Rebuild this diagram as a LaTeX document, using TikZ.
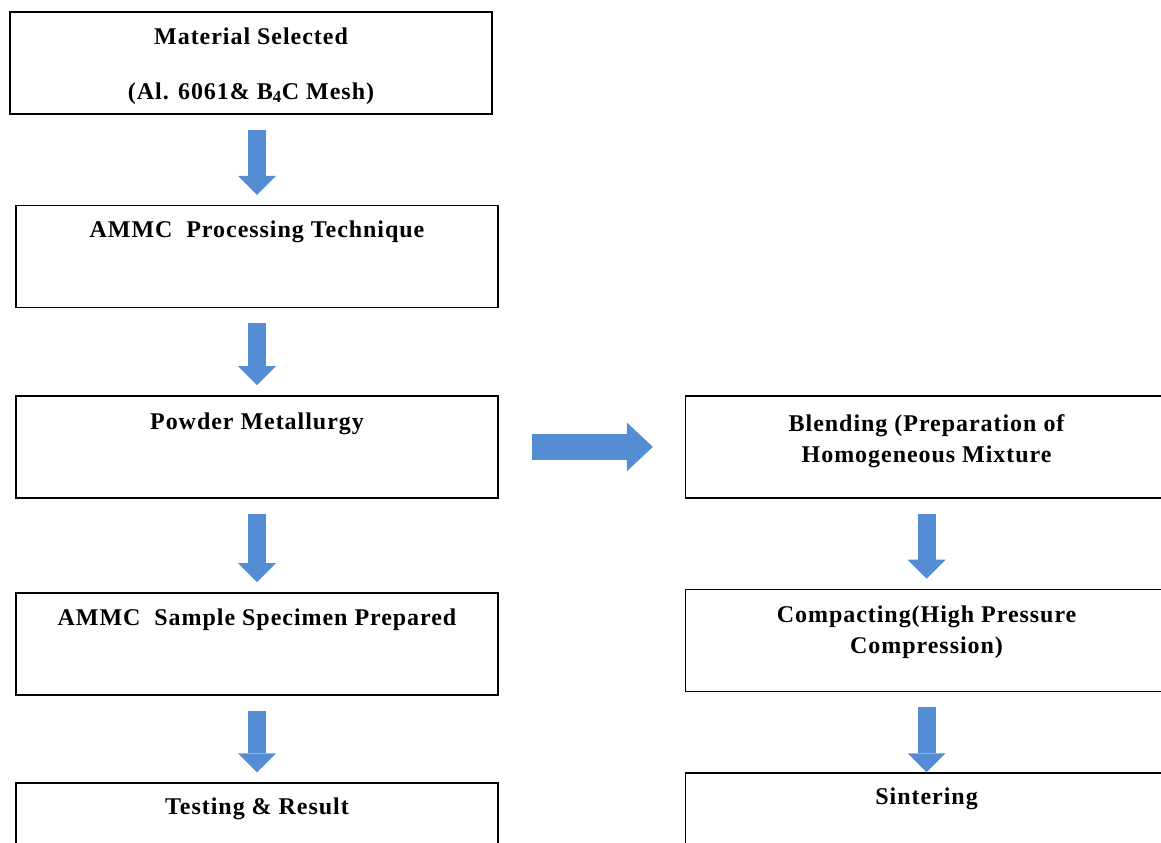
\documentclass[tikz,border=0pt]{standalone}
\usepackage{fontspec}
\setmainfont{Liberation Serif}[LetterSpace=4]
\usepackage{tikz}
\usetikzlibrary{positioning}
\usetikzlibrary{arrows.meta}

\definecolor{flowblue}{RGB}{84,141,212}

\tikzset{
    box/.style = {draw, line width = 1.2pt, minimum width = 361.5pt, minimum height = 76.5pt, inner sep = 0pt},
    lbl/.style = {anchor = base, align = center, inner sep = 0pt, font = \fontsize{18}{23.25}\selectfont\bfseries},
    flow/.style = {draw = flowblue, line width = 13.5pt, shorten < = 11.25pt, shorten > = 7.5pt,
        -{Triangle[width = 28.5pt, length = 14.25pt, line width = 0pt]}},
    bigflow/.style = {draw = flowblue, line width = 19.5pt, shorten < = 24.75pt, shorten > = 24pt,
        -{Triangle[width = 36.75pt, length = 19.5pt, line width = 0pt]}}
}

\begin{document}
\begin{tikzpicture}[x = 0.75pt, y = -0.75pt]
    \useasboundingbox (0,0) rectangle (1161,843);
    \clip (0,0) rectangle (1161,843);
    % boxes %
    \node[box] (mat) at (251,63) {};
    \node[box, below = 67.5pt of mat, xshift = 4.5pt] (proc) {};
    \node[box, below = 65pt of proc] (pm) {};
    \node[box, below = 70pt of pm] (spec) {};
    \node[box, below = 65pt of spec] (test) {};
    \node[box, right = 139.5pt of pm] (blend) {};
    \node[box, below = 67.5pt of blend] (comp) {};
    \node[box, below = 60pt of comp] (sint) {};
    % texts (base = last line) %
    \node[lbl] (t-mat) at ([yshift = -66pt]mat.north) {Material Selected\\[18pt](Al. 6061\& B\textsubscript{4}C Mesh)};
    \node[lbl] (t-proc) at ([yshift = -24.75pt]proc.north) {AMMC~ Processing Technique};
    \node[lbl] (t-pm) at ([yshift = -25.5pt]pm.north) {Powder Metallurgy};
    \node[lbl] (t-spec) at ([yshift = -24.75pt]spec.north) {AMMC~ Sample Specimen Prepared};
    \node[lbl] (t-test) at ([yshift = -24pt]test.north) {Testing \& Result};
    \node[lbl] (t-blend) at ([yshift = -50.25pt]blend.north) {Blending (Preparation of\\Homogeneous Mixture};
    \node[lbl] (t-comp) at ([yshift = -48.75pt]comp.north) {Compacting(High Pressure\\Compression)};
    \node[lbl] (t-sint) at ([yshift = -24pt]sint.north) {Sintering};
    % arrows %
    \draw[flow] (proc.north |- mat.south) -- (proc.north);
    \draw[flow] (proc) -- (pm);
    \draw[flow] (pm) -- (spec);
    \draw[flow] (spec) -- (test);
    \draw[flow] (blend) -- (comp);
    \draw[flow, shorten > = 0pt] (comp) -- (sint);
    \draw[bigflow] (pm) -- (blend);
\end{tikzpicture}
\end{document}
